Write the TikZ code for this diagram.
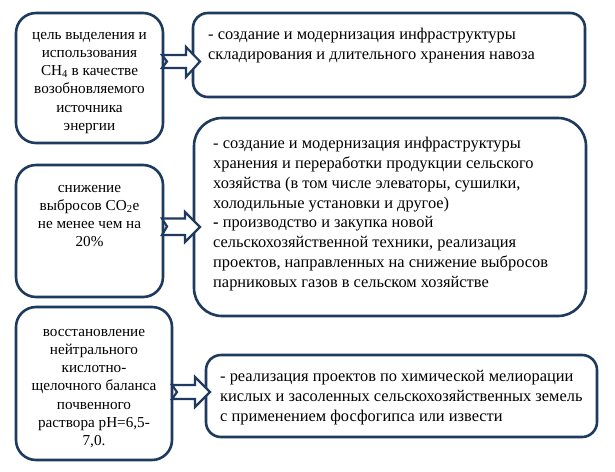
\documentclass[tikz,border=0pt]{standalone}
\usepackage{fontspec}
\setmainfont{Liberation Serif}
\definecolor{navy}{HTML}{1F3A5F}
\newcommand{\ls}{\rule{0pt}{13pt}}
\newcommand{\rs}{\rule{0pt}{14pt}}
\begin{document}
\begin{tikzpicture}[x=1pt,y=-1pt,
  box/.style={draw=navy,line width=2.6pt,fill=white,inner sep=0pt},
  ltext/.style={align=center,inner sep=0pt,anchor=north,font=\fontsize{15.2}{18.2}\selectfont},
  rtext/.style={align=left,inner sep=0pt,anchor=north west,font=\fontsize{16.4}{19.8}\selectfont},
  arr/.style={draw=navy,line width=2.2pt,fill=white,line join=miter}]
\useasboundingbox (0,0) rectangle (615,471);
% left boxes
\node[box,rounded corners=20pt,minimum width=147pt,minimum height=130pt] (L1) at (89.5,78) {};
\node[box,rounded corners=20pt,minimum width=147pt,minimum height=132pt] (L2) at (89.5,231) {};
\node[box,rounded corners=20pt,minimum width=156pt,minimum height=153pt] (L3) at (94,383.5) {};
% right boxes
\node[box,rounded corners=15pt,minimum width=392pt,minimum height=84pt] (R1) at (389,55) {};
\node[box,rounded corners=28pt,minimum width=392pt,minimum height=198pt] (R2) at (390,217) {};
\node[box,rounded corners=15pt,minimum width=391pt,minimum height=82pt] (R3) at (401.5,396) {};
% texts
\node[ltext] (t1) at (89.5,26) {\ls цель выделения и\\использования\\CH\textsubscript{4} в качестве\\возобновляемого\\источника\\энергии};
\node[ltext] (t2) at (89.5,179) {\ls снижение\\выбросов CO\textsubscript{2}e\\не менее чем на\\20\%};
\node[ltext] (t3) at (94,323) {\ls восстановление\\нейтрального\\кислотно-\\щелочного баланса\\почвенного\\раствора pH=6,5-\\7,0.};
\node[rtext] (u1) at (208,25.5) {\rs - создание и модернизация инфраструктуры\\складирования и длительного хранения навоза};
\node[rtext] (u2) at (213,134.5) {\rs - создание и модернизация инфраструктуры\\хранения и переработки продукции сельского\\хозяйства (в том числе элеваторы, сушилки,\\холодильные установки и другое)\\\textbf{-} производство и закупка новой\\сельскохозяйственной техники, реализация\\проектов, направленных на снижение выбросов\\парниковых газов в сельском хозяйстве};
\node[rtext] (u3) at (220,367.5) {\rs - реализация проектов по химической мелиорации\\кислых и засоленных сельскохозяйственных земель\\с применением фосфогипса или извести};
% arrows
\draw[arr] (162,55) -- (186,55) -- (186,47) -- (200,61.5) -- (186,77) -- (186,68) -- (162,68) -- (167,61.5) -- cycle;
\draw[arr] (162,218.5) -- (185,218.5) -- (185,212) -- (200,227) -- (185,242) -- (185,235) -- (162,235) -- (167,226.5) -- cycle;
\draw[arr] (172,385) -- (195,385) -- (195,377) -- (210,392) -- (195,407) -- (195,399) -- (172,399) -- (177,392) -- cycle;
\end{tikzpicture}
\end{document}
